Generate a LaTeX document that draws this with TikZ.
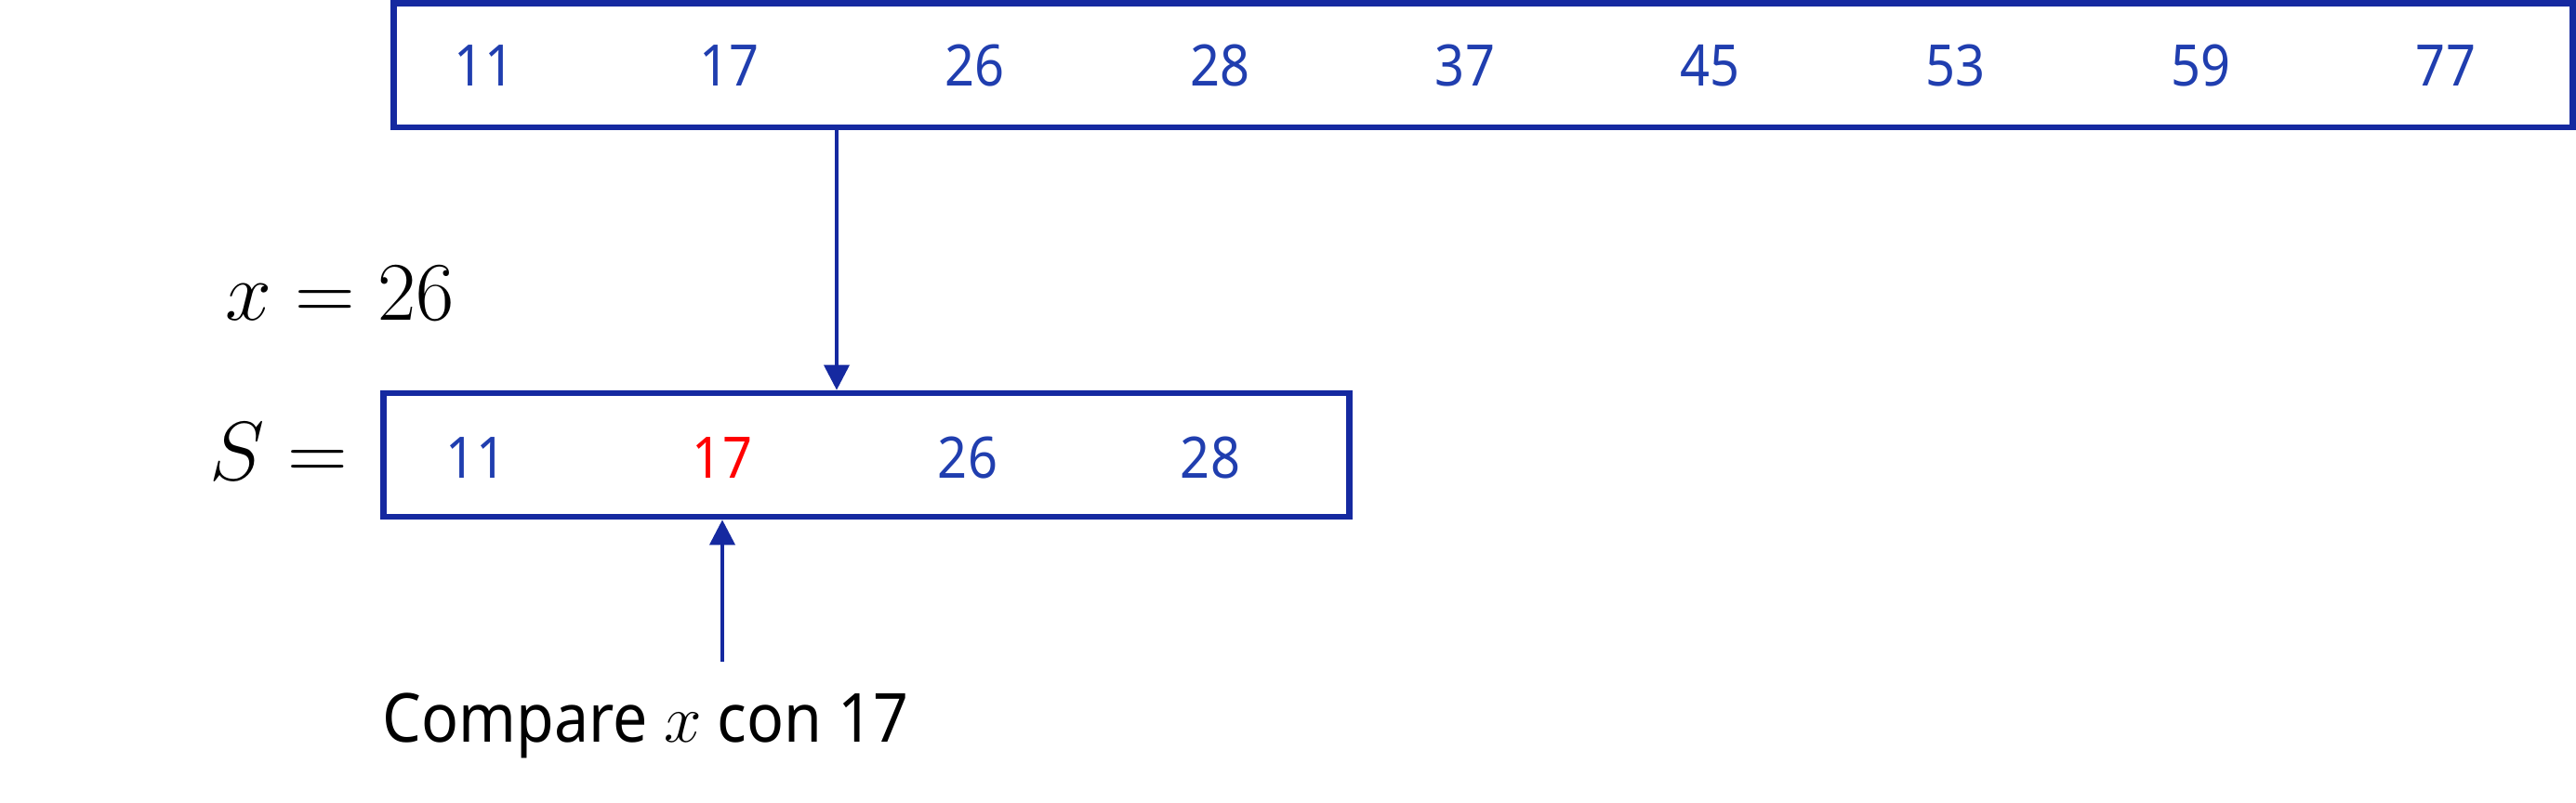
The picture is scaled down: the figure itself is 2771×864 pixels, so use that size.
\RequirePackage{fix-cm}
\documentclass[tikz,border=0pt]{standalone}
\usepackage[no-math]{fontspec}
\setmainfont{Noto Sans}[FakeStretch=0.91]
\usetikzlibrary{arrows.meta}
\definecolor{boxblue}{RGB}{21,41,160}
\definecolor{numblue}{RGB}{32,62,175}
\definecolor{hired}{RGB}{255,0,0}
\begin{document}
\begin{tikzpicture}[x=0.01cm,y=-0.01cm,
  arraybox/.style={draw=boxblue, line width=1.85pt, inner sep=0pt},
  numtext/.style={text=numblue, font=\fontsize{17.5}{20}\selectfont, anchor=base, inner sep=0pt},
  mathlabel/.style={anchor=base west, inner sep=0pt, font=\fontsize{25.5}{30}\selectfont},
  ptr/.style={draw=boxblue, line width=1.1pt, -{Triangle[length=7.7pt,width=7.7pt]}}
]
\useasboundingbox (0,0) rectangle (2771,864);
% top array
\node[arraybox, minimum width=23.43cm, minimum height=1.335cm] (top) at (1595.5,70.25) {};
\foreach \v [count=\i from 0] in {11,17,26,28,37,45,53,59,77}
  \node[numtext] (t\i) at ({521+263.75*\i},93) {\v};
% lower array S
\node[arraybox, minimum width=10.38cm, minimum height=1.33cm] (low) at (932,489.5) {};
\node[numtext] (s0) at (512,515) {11};
\node[numtext, text=hired] (s1) at (777,515) {17};
\node[numtext] (s2) at (1041,515) {26};
\node[numtext] (s3) at (1302,515) {28};
% labels
\node[mathlabel] (xeq) at (242,345) {$x = 26$};
\node[mathlabel] (seq) at (225,517) {$S =$};
\node[anchor=base west, inner sep=0pt, font=\fontsize{20.7}{25}\selectfont] (cmp) at (411,799) {Compare $x$ con 17};
% connectors
\coordinate (dx) at (900,0);
\draw[ptr] (top.south -| dx) -- (low.north -| dx);
\coordinate (cmpfoot) at (777,712);
\draw[ptr] (cmpfoot) -- (low.south -| cmpfoot);
\end{tikzpicture}
\end{document}
